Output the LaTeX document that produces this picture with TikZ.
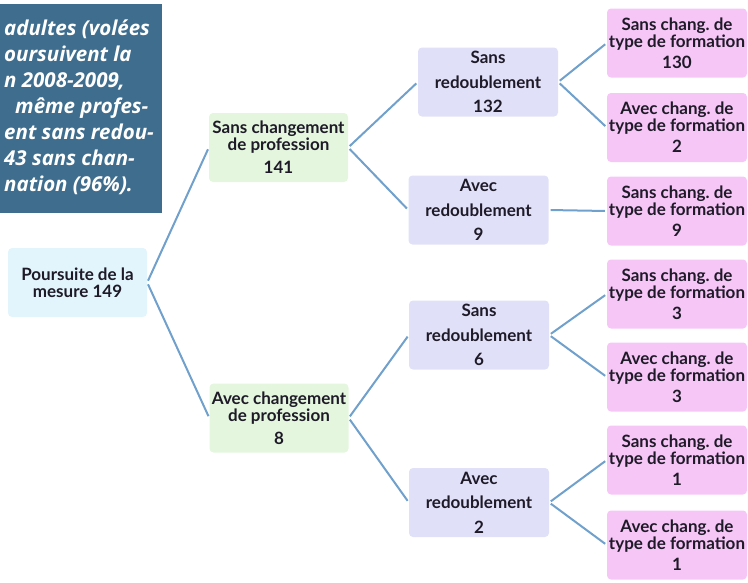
\documentclass[tikz,border=0pt]{standalone}
\usepackage{fontspec}
\setmainfont{Lato}
\newfontfamily\notefont{Open Sans}
\usepackage{tikz}
\usetikzlibrary{calc}
\usepackage{xcolor}
\definecolor{noteblue}{RGB}{62,109,142}
\definecolor{rootfill}{RGB}{227,245,252}
\definecolor{proffill}{RGB}{228,247,222}
\definecolor{redfill}{RGB}{224,224,248}
\definecolor{formfill}{RGB}{246,198,246}
\definecolor{linkcol}{RGB}{112,160,204}
\definecolor{txtcol}{RGB}{30,26,40}
\tikzset{
  box/.style={rounded corners=4pt, inner sep=0pt, minimum width=139pt,
    minimum height=69pt, align=center, text=txtcol,
    font=\bfseries\fontsize{17}{17}\selectfont},
  rootbox/.style={box, fill=rootfill},
  profbox/.style={box, fill=proffill},
  redbox/.style={box, fill=redfill, minimum width=140pt,
    font=\bfseries\fontsize{17}{24.5}\selectfont},
  formbox/.style={box, fill=formfill, minimum width=140pt},
  notetext/.style={inner sep=0pt, align=left, text=white,
    font=\notefont\bfseries\itshape\fontsize{20.5}{26}\selectfont},
  link/.style={draw=linkcol, line width=2pt, shorten >=2pt, shorten <=2pt}
}

\begin{document}
\begin{tikzpicture}[x=1pt,y=-1pt]
  \useasboundingbox (0,0) rectangle (748,582);
  \fill[noteblue] (0,4) rectangle (162,213);
  \node[notetext, anchor=north west] (pNote) at (4,20)
    {adultes (volées\\oursuivent la\\n 2008-2009,\\\hspace*{11pt}même profes-\\ent sans redou-\\43 sans chan-\\nation (96\%).};

  \node[rootbox] (pRoot) at (77.5,282.5) {Poursuite de la\\mesure 149};
  \node[profbox] (pSansProf) at (278.5,147.5) {Sans changement\\de profession\\[6pt]141};
  \node[profbox] (pAvecProf) at (279,418) {Avec changement\\de profession\\[6pt]8};

  \node[redbox] (pSansRedA) at (488,82) {Sans\\redoublement\\132};
  \node[redbox] (pAvecRedA) at (478.5,210) {Avec\\redoublement\\9};
  \node[redbox] (pSansRedB) at (479,335) {Sans\\redoublement\\6};
  \node[redbox] (pAvecRedB) at (479,502.5) {Avec\\redoublement\\2};

  \node[formbox] (pFormA) at (677,43) {Sans chang.\ de\\type de formation\\[4pt]130};
  \node[formbox] (pFormB) at (677,127.5) {Avec chang.\ de\\type de formation\\[4pt]2};
  \node[formbox] (pFormC) at (677,211) {Sans chang.\ de\\type de formation\\[4pt]9};
  \node[formbox] (pFormD) at (677,294) {Sans chang.\ de\\type de formation\\[4pt]3};
  \node[formbox] (pFormE) at (677,377) {Avec chang.\ de\\type de formation\\[4pt]3};
  \node[formbox] (pFormF) at (677,460) {Sans chang.\ de\\type de formation\\[4pt]1};
  \node[formbox] (pFormG) at (677,545) {Avec chang.\ de\\type de formation\\[4pt]1};

  \draw[link] (pRoot.east) -- (pSansProf.west);
  \draw[link] (pRoot.east) -- (pAvecProf.west);
  \draw[link] (pSansProf.east) -- (pSansRedA.west);
  \draw[link] (pSansProf.east) -- (pAvecRedA.west);
  \draw[link] (pAvecProf.east) -- (pSansRedB.west);
  \draw[link] (pAvecProf.east) -- (pAvecRedB.west);
  \draw[link] (pSansRedA.east) -- (pFormA.west);
  \draw[link] (pSansRedA.east) -- (pFormB.west);
  \draw[link] (pAvecRedA.east) -- (pFormC.west);
  \draw[link] (pSansRedB.east) -- (pFormD.west);
  \draw[link] (pSansRedB.east) -- (pFormE.west);
  \draw[link] (pAvecRedB.east) -- (pFormF.west);
  \draw[link] (pAvecRedB.east) -- (pFormG.west);
\end{tikzpicture}
\end{document}
